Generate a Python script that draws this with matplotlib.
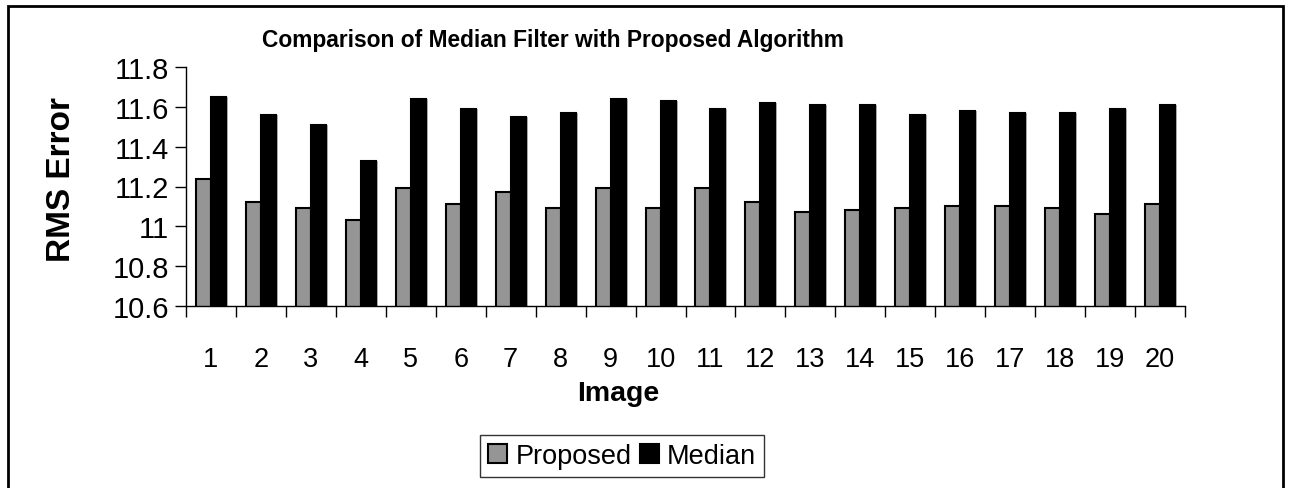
import matplotlib.pyplot as plt
from matplotlib.patches import Rectangle
import numpy as np

# data
images = [str(i) for i in range(1, 21)]
proposed = [11.24, 11.12, 11.09, 11.03, 11.19, 11.11, 11.17, 11.09, 11.19, 11.09,
            11.19, 11.12, 11.07, 11.08, 11.09, 11.10, 11.10, 11.09, 11.06, 11.11]
median = [11.65, 11.56, 11.51, 11.33, 11.64, 11.59, 11.55, 11.57, 11.64, 11.63,
          11.59, 11.62, 11.61, 11.61, 11.56, 11.58, 11.57, 11.57, 11.59, 11.61]
y_ticks = [10.6, 10.8, 11, 11.2, 11.4, 11.6, 11.8]

plt.rcParams['font.family'] = ['Liberation Sans', 'DejaVu Sans']

fig = plt.figure(figsize=(12.91, 4.89), dpi=100)
ax = fig.add_axes([186 / 1291, 1 - 307 / 489, 999 / 1291, 239 / 489])

x = np.arange(len(images))
w = 0.3
# little shadow behind each bar
ax.bar(x - w / 2 + 0.04, proposed, w, color='#b0b0b0', zorder=1)
ax.bar(x + w / 2 + 0.04, median, w, color='#b0b0b0', zorder=1)
ax.bar(x - w / 2, proposed, w, color='#959595', edgecolor='black', linewidth=1.5,
       label='Proposed', zorder=2)
ax.bar(x + w / 2, median, w, color='black', edgecolor='black', linewidth=1.5,
       label='Median', zorder=2)

ax.set_xlim(-0.5, len(images) - 0.5)
ax.set_ylim(10.6, 11.8)
ax.set_yticks(y_ticks)
ax.set_yticklabels(['10.6', '10.8', '11', '11.2', '11.4', '11.6', '11.8'], fontsize=21)
ax.tick_params(axis='y', direction='out', length=8, width=1, pad=4)

# tick marks between categories, labels at the centres
ax.set_xticks(np.arange(len(images) + 1) - 0.5)
ax.set_xticklabels([])
ax.tick_params(axis='x', which='major', direction='out', length=8, width=1)
ax.set_xticks(x, minor=True)
ax.set_xticklabels(images, minor=True, fontsize=19.5)
ax.tick_params(axis='x', which='minor', length=0, pad=29)

for s in ['top', 'right']:
    ax.spines[s].set_visible(False)
ax.spines['left'].set_linewidth(1)
ax.spines['bottom'].set_linewidth(1)

fig.text(553 / 1291, 1 - 40 / 489, 'Comparison of Median Filter with Proposed Algorithm',
         fontsize=16.4, fontweight='bold', ha='center', va='center')
fig.text(62 / 1291, 1 - 179 / 489, 'RMS Error', fontsize=24, fontweight='bold',
         rotation=90, ha='center', va='center')
fig.text(618 / 1291, 1 - 394 / 489, 'Image', fontsize=20.5, fontweight='bold',
         ha='center', va='center')

leg = fig.legend(loc='center', bbox_to_anchor=(622 / 1291, 1 - 457 / 489), ncol=2,
                 fontsize=19.5, frameon=True, fancybox=False, handlelength=0.7,
                 handleheight=0.7, handletextpad=0.3, columnspacing=0.3,
                 borderpad=0.3)
leg.get_frame().set_edgecolor('black')
leg.get_frame().set_linewidth(1)

# outer chart frame
fig.patches.append(Rectangle((8 / 1291, -0.01), 1275 / 1291, 1 - 7 / 489 + 0.01,
                             transform=fig.transFigure, fill=False,
                             edgecolor='black', linewidth=2))

fig.savefig('out.png', dpi=100)
